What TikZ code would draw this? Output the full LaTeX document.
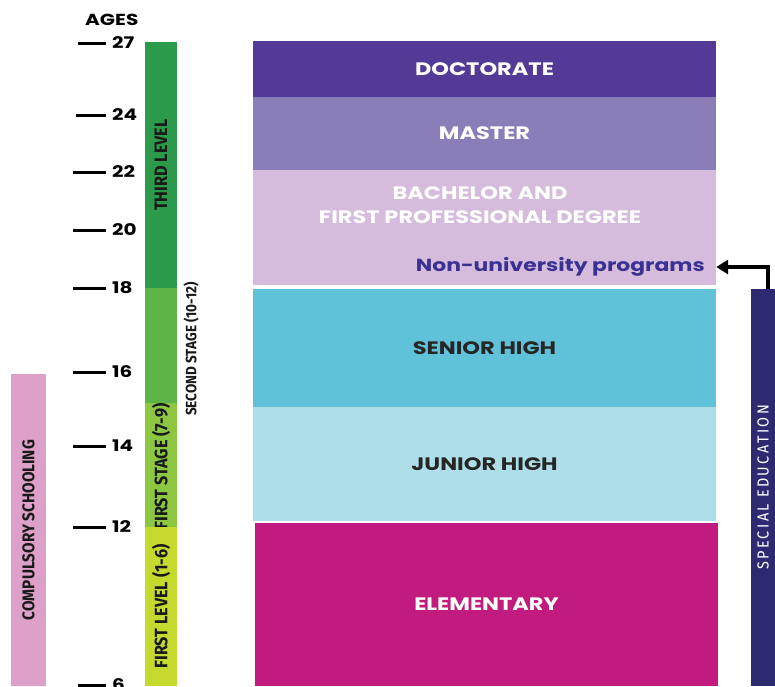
\documentclass[tikz,border=0pt]{standalone}
\usepackage{fontspec}
\setmainfont{Poppins}
\newfontfamily\widefont[FakeStretch=1.25]{Poppins}
\newfontfamily\condfont[FakeStretch=0.9]{Fira Sans}
\newfontfamily\spacedfont[FakeStretch=0.9, LetterSpace=15]{Fira Sans}
\usetikzlibrary{arrows.meta}

\definecolor{doccol}{HTML}{533A96}
\definecolor{mastcol}{HTML}{8A7DB8}
\definecolor{bachcol}{HTML}{D5BCDC}
\definecolor{seniorcol}{HTML}{60C2D8}
\definecolor{juniorcol}{HTML}{AEDFE9}
\definecolor{elemcol}{HTML}{C11B7F}
\definecolor{specialcol}{HTML}{2E2A72}
\definecolor{thirdcol}{HTML}{2B9A4A}
\definecolor{secondcol}{HTML}{5DB548}
\definecolor{firststcol}{HTML}{8DC641}
\definecolor{firstlvcol}{HTML}{C5D92F}
\definecolor{compcol}{HTML}{DDA0C8}
\definecolor{nonunicol}{HTML}{3B3192}

\tikzset{
  stage/.style={rectangle, inner sep=0pt, minimum width=463},
  stagetext/.style={font=\widefont\fontsize{18}{24}\selectfont\bfseries, align=center},
  bar/.style={rectangle, inner sep=0pt, rotate=90, text=black!90, font=\condfont\fontsize{18}{20}\selectfont\bfseries},
  agetick/.style={line width=3pt},
  agelabel/.style={font=\widefont\fontsize{16}{18}\selectfont\bfseries, anchor=west, inner sep=0pt}
}

\begin{document}
\begin{tikzpicture}[x=1pt, y=-1pt]
\useasboundingbox (0,0) rectangle (775,686);

% age scale
\node[agelabel] (ages) at (85,20) {AGES};
\foreach \y/\a/\s in {43/27/78, 115/24/76, 172/22/73, 230/20/73, 288/18/73, 372/16/73, 446/14/73, 527/12/73, 685/6/78} {
  \draw[agetick] (\s,\y) -- (106,\y);
  \node[agelabel] (age\a) at (112,\y) {\a};
}

% levels bar
\node[bar, fill=thirdcol, minimum width=246, minimum height=32] (third) at (161,165) {THIRD LEVEL};
\node[bar, fill=secondcol, minimum width=118, minimum height=32] (second) at (161,347) {};
\node[bar, fill=firststcol, minimum width=121, minimum height=32] (firstst) at (161,466.5) {FIRST STAGE (7-9)};
\node[bar, fill=firstlvcol, minimum width=159, minimum height=32] (firstlv) at (161,606.5) {FIRST LEVEL (1-6)};
\node[bar, font=\condfont\fontsize{15}{17}\selectfont\bfseries] (secondtxt) at (191,349) {SECOND STAGE (10-12)};

\node[bar, fill=compcol, minimum width=312, minimum height=35, font=\condfont\fontsize{17}{19}\selectfont\bfseries] (comp) at (28.5,530) {COMPULSORY SCHOOLING};

% education stages
\node[stage, fill=doccol, minimum height=56, stagetext, text=white] (doc) at (484.5,69) {DOCTORATE};
\node[stage, fill=mastcol, minimum height=73, stagetext, text=white] (mast) at (484.5,133.5) {MASTER};
\node[stage, fill=bachcol, minimum height=115] (bach) at (484.5,227.5) {};
\node[stagetext, text=white] (bachtxt) at (480,205) {BACHELOR AND\\FIRST PROFESSIONAL DEGREE};
\node[font=\widefont\fontsize{17.5}{20}\selectfont\bfseries, text=nonunicol, anchor=east, inner sep=0pt] (nonuni) at (705,267) {Non-university programs};
\node[stage, fill=seniorcol, minimum height=118, stagetext, text=black!85] (senior) at (484.5,348) {SENIOR HIGH};
\node[stage, fill=juniorcol, minimum height=114, stagetext, text=black!85] (junior) at (484.5,464) {JUNIOR HIGH};
\node[stage, fill=elemcol, minimum height=163, stagetext, text=white] (elem) at (486.5,604.5) {ELEMENTARY};

\node[bar, fill=specialcol, minimum width=397, minimum height=24, text=white, font=\spacedfont\fontsize{16}{18}\selectfont] (special) at (763,487.5) {SPECIAL EDUCATION};

\draw[line width=3.5pt, -{Triangle[length=12pt, width=14pt]}] ([xshift=5pt]special.east) |- (nonuni.east -| bach.east);
\end{tikzpicture}
\end{document}
